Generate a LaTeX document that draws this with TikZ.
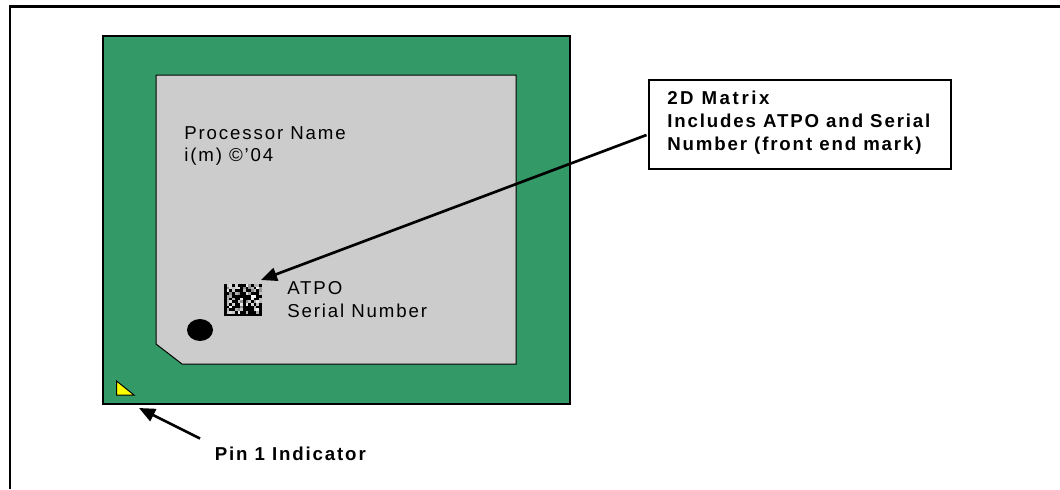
\documentclass[tikz,border=0pt]{standalone}
\usepackage{fontspec}
\setmainfont[LetterSpace=10]{Liberation Sans}
\newfontfamily\widebold[LetterSpace=14,BoldFont={Liberation Sans Bold}]{Liberation Sans}
\newfontfamily\pinbold[LetterSpace=10,BoldFont={Liberation Sans Bold}]{Liberation Sans}
\usetikzlibrary{arrows.meta}
\definecolor{chipgreen}{RGB}{51,153,102}
\definecolor{lidgray}{RGB}{204,204,204}
\definecolor{pinyellow}{RGB}{255,255,0}
\tikzset{
  thinline/.style={draw=black,line width=0.75pt},
  plain/.style={anchor=west,inner sep=0pt,align=left,font=\fontsize{14}{17.2}\selectfont},
  strong/.style={anchor=west,inner sep=0pt,align=left,font=\fontsize{14}{17.2}\selectfont\bfseries},
  pointer/.style={draw=black,line width=2pt,-{Triangle[length=12pt,width=10pt]},shorten >=0pt}
}
\begin{document}
\begin{tikzpicture}[x=0.75pt,y=-0.75pt]
\useasboundingbox (0,0) rectangle (1060,489);
% outer frame
\draw[black,line width=1.7pt] (10,489) -- (10,6.5) -- (1060,6.5);
% package
\draw[fill=chipgreen,draw=black,line width=1.5pt] (103,36) rectangle (570,404);
% lid
\draw[fill=lidgray,thinline] (156,75) -- (516,75) -- (516,364) -- (182,364) -- (156,344) -- cycle;
% pin 1 triangle
\draw[fill=pinyellow,thinline] (116.5,381) -- (134,395) -- (116.5,395) -- cycle;
% fiducial
\fill[black] (200,330) ellipse [x radius=13,y radius=11];
% data matrix
\fill[black] (224,284) rectangle (262,316);
\pgfmathsetseed{4242}
\foreach \i in {1,...,13}{
  \foreach \j in {0,...,10}{
    \pgfmathsetmacro{\v}{rnd}
    \pgfmathtruncatemacro{\w}{\v<0.5 ? 1 : 0}
    \ifnum\w=1
      \pgfmathsetmacro{\g}{55+45*rnd}
      \fill[white!\g!black] ({224+\i*2.7},{284+\j*2.7}) rectangle ++(2.7,2.7);
    \fi
  }
}
% texts
\node[plain] (name) at (184,146) {Processor Name\\i(m) ©’04};
\node[plain] (atpo) at (287,299.5) {ATPO\\Serial Number};
\node[strong] (pin) at (214.5,454) {\pinbold\bfseries Pin 1 Indicator};
% callout box
\node[draw=black,line width=1.5pt,fill=white,minimum width=226.5pt,minimum height=66.75pt,inner sep=0pt,outer sep=0pt] (box) at (800,124.5) {};
\node[strong] (boxtext) at (667,122.5) {\widebold\bfseries 2D Matrix\\Includes ATPO and Serial\\Number (front end mark)};
% connectors
\coordinate (matrixtip) at (261,280);
\coordinate (boxend) at (646.5,135);
\coordinate (pintip) at (139,408);
\coordinate (pinend) at (200,438.5);
\draw[pointer] (boxend) -- (matrixtip);
\draw[pointer] (pinend) -- (pintip);
\end{tikzpicture}
\end{document}
